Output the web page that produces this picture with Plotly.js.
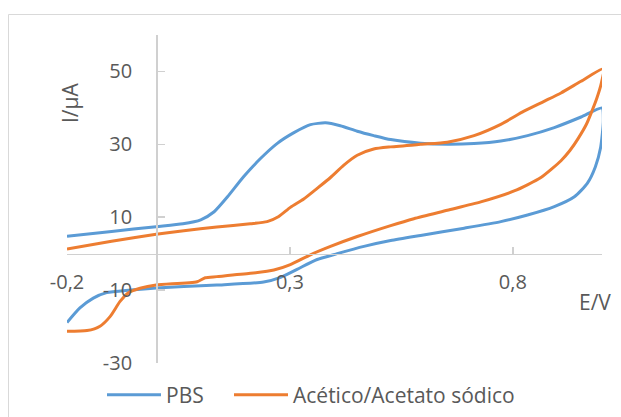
<!DOCTYPE html>
<html>
<head>
<meta charset="utf-8">
<script src="https://cdn.plot.ly/plotly-3.0.1.min.js"></script>
<style>
  html, body { margin: 0; padding: 0; background: #ffffff; }
  #chart { width: 621px; height: 417px; }
</style>
</head>
<body>
<div id="chart"></div>
<script>
// ---- Data ----
const seriesNames = ["PBS", "Acético/Acetato sódico"];

// PBS: forward scan (-0.2 -> 1.0) then reverse scan (1.0 -> -0.2)
const pbsE = [-0.2, -0.1, 0.0, 0.06, 0.1, 0.13, 0.16, 0.196, 0.234, 0.271, 0.309, 0.346, 0.38, 0.413, 0.451, 0.488, 0.526, 0.593, 0.653, 0.713, 0.773, 0.833, 0.893, 0.953, 1.0,
              1.003, 0.997, 0.985, 0.967, 0.938, 0.893, 0.833, 0.773, 0.691, 0.593, 0.526, 0.466, 0.406, 0.361, 0.316, 0.279, 0.241, 0.136, 0.062, 0.0, -0.058, -0.111, -0.141, -0.171, -0.2];
const pbsI = [4.8, 6.1, 7.4, 8.2, 9.3, 11.5, 15.6, 21.1, 26.1, 30.2, 33.2, 35.4, 35.9, 35.1, 33.6, 32.4, 31.3, 30.3, 30.0, 30.2, 30.9, 32.4, 34.6, 37.5, 40.0,
              36.5, 29.2, 23.8, 19.3, 15.6, 12.9, 10.6, 8.8, 7.0, 5.0, 3.6, 2.0, 0.0, -1.6, -4.3, -6.5, -7.8, -8.6, -9.0, -9.4, -10.0, -10.7, -12.2, -14.9, -18.9];

// Acético/Acetato sódico: forward then reverse
const acE = [-0.2, -0.1, 0.0, 0.062, 0.136, 0.211, 0.249, 0.275, 0.301, 0.331, 0.361, 0.391, 0.421, 0.451, 0.488, 0.526, 0.593, 0.653, 0.713, 0.773, 0.825, 0.87, 0.908, 0.953, 1.003,
             0.998, 0.988, 0.977, 0.965, 0.946, 0.928, 0.908, 0.863, 0.803, 0.728, 0.653, 0.578, 0.526, 0.451, 0.391, 0.346, 0.301, 0.264, 0.211, 0.136, 0.11, 0.092, 0.0, -0.036, -0.062, -0.081, -0.103, -0.126, -0.155, -0.2];
const acI = [1.3, 3.4, 5.3, 6.3, 7.3, 8.2, 8.8, 10.2, 12.7, 15.0, 17.9, 20.9, 24.3, 27.0, 28.7, 29.3, 30.0, 30.6, 32.4, 35.5, 39.1, 41.8, 44.1, 47.3, 50.7,
             46.5, 42.5, 39.0, 35.5, 31.5, 28.3, 25.5, 20.9, 17.2, 14.2, 11.9, 9.6, 7.7, 4.7, 2.0, -0.3, -3.0, -4.5, -5.4, -6.3, -6.6, -7.7, -8.6, -9.5, -10.7, -13.1, -17.2, -19.9, -21.1, -21.3];

// Axis ticks
const xTickVals = [-0.2, 0.3, 0.8];
const xTickText = ["-0,2", "0,3", "0,8"];
const yTickVals = [-30, -10, 10, 30, 50];
const yTickText = ["-30", "-10", "10", "30", "50"];
const xTitle = "E/V";
const yTitle = "I/µA";

// ---- Styling / layout geometry ----
const FONT = "'Open Sans', 'Noto Sans', sans-serif";
const TEXT = "#595959";
const AXIS = "#d0d0d0";
const xRange = [-0.2, 1.0];
const yRange = [-30, 60];

const W = 621, H = 417;
const M = { l: 67, r: 19, t: 35, b: 0 };
const plotW = W - M.l - M.r, plotH = H - M.t - M.b;
const yDomStart = (H - M.b - 363) / plotH;        // y-axis runs down to pixel row 363
const yDomain = [yDomStart, 1];
// paper coordinates from pixel positions (for non-data elements only)
const px2x = px => (px - M.l) / plotW;
const py2y = py => (H - M.b - py) / plotH;

const xAxisPos = yDomain[0] + (yDomain[1] - yDomain[0]) * (0 - yRange[0]) / (yRange[1] - yRange[0]);
const yAxisPos = (0 - xRange[0]) / (xRange[1] - xRange[0]);

const traces = [
  { x: pbsE, y: pbsI, name: seriesNames[0], type: "scatter", mode: "lines", legend: "legend",
    line: { color: "#5B9BD5", width: 3, shape: "spline", smoothing: 0.6 } },
  { x: acE, y: acI, name: seriesNames[1], type: "scatter", mode: "lines", legend: "legend2",
    line: { color: "#ED7D31", width: 3, shape: "spline", smoothing: 0.6 } }
];

const legendCommon = {
  orientation: "h", xanchor: "left", yanchor: "middle",
  font: { family: FONT, color: TEXT, size: 21 },
  itemwidth: 54, bgcolor: "rgba(0,0,0,0)", borderwidth: 0
};

const layout = {
  width: W, height: H,
  margin: { l: M.l, r: M.r, t: M.t, b: M.b, pad: 0 },
  paper_bgcolor: "#ffffff", plot_bgcolor: "#ffffff",
  font: { family: FONT, color: TEXT, size: 20 },
  showlegend: true,
  legend: Object.assign({}, legendCommon, { x: px2x(102), y: py2y(395) }),
  legend2: Object.assign({}, legendCommon, { x: px2x(229), y: py2y(395) }),
  xaxis: {
    range: xRange, domain: [0, 1], anchor: "free", position: xAxisPos,
    tickmode: "array", tickvals: xTickVals, ticktext: xTickText,
    ticks: "inside", ticklen: 7, tickwidth: 1.5, tickcolor: AXIS,
    showline: true, linecolor: AXIS, linewidth: 1.5,
    showgrid: false, zeroline: false,
    ticklabelstandoff: 10,
    tickfont: { family: FONT, color: TEXT, size: 20 }
  },
  yaxis: {
    range: yRange, domain: yDomain, anchor: "free", position: yAxisPos,
    tickmode: "array", tickvals: yTickVals, ticktext: yTickText,
    ticks: "inside", ticklen: 7, tickwidth: 1.5, tickcolor: AXIS,
    showline: true, linecolor: AXIS, linewidth: 1.5,
    showgrid: false, zeroline: false,
    ticklabelstandoff: 20,
    tickfont: { family: FONT, color: TEXT, size: 20 }
  },
  annotations: [
    { text: yTitle, xref: "paper", yref: "paper", x: px2x(70), y: py2y(103), xanchor: "center", yanchor: "middle",
      textangle: -90, showarrow: false, font: { family: FONT, color: TEXT, size: 21 } },
    { text: xTitle, xref: "paper", yref: "paper", x: px2x(595), y: py2y(302), xanchor: "center", yanchor: "middle",
      showarrow: false, font: { family: FONT, color: TEXT, size: 21 } }
  ],
  shapes: [
    { type: "rect", xref: "paper", yref: "paper", x0: px2x(8.5), x1: px2x(700), y0: py2y(480), y1: py2y(14.5),
      line: { color: "#d9d9d9", width: 1 }, fillcolor: "rgba(0,0,0,0)", layer: "below" }
  ]
};

Plotly.newPlot("chart", traces, layout, { displayModeBar: false, staticPlot: true });
</script>
</body>
</html>
